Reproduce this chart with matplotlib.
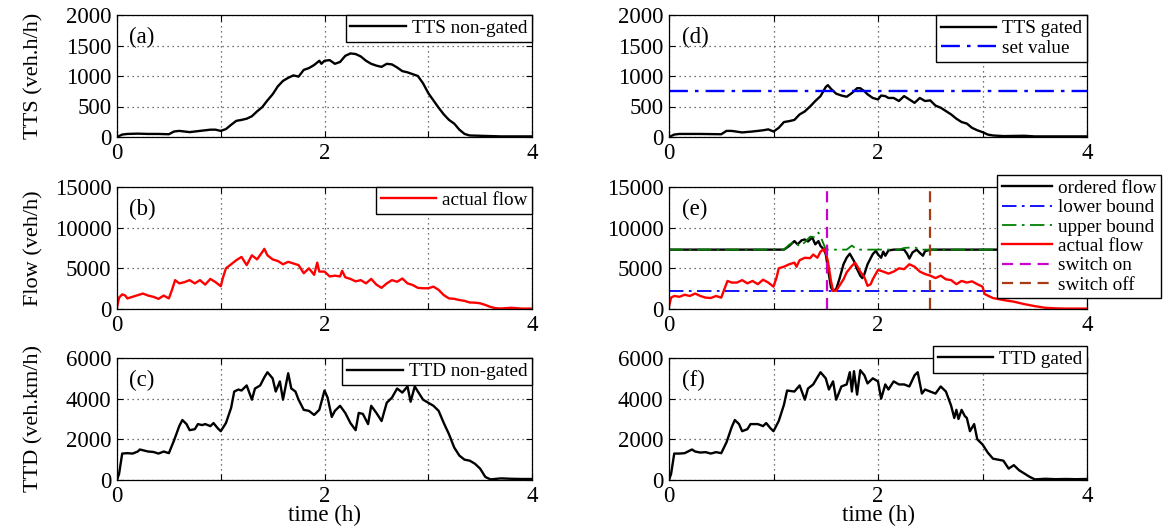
import matplotlib
matplotlib.use("Agg")
import matplotlib.pyplot as plt

plt.rcParams['font.family'] = 'serif'
plt.rcParams['font.serif'] = ['Liberation Serif', 'DejaVu Serif']

# ---------------- data ----------------
# (a) TTS non-gated
t_a = [0, 0.05, 0.1, 0.2, 0.3, 0.4, 0.5, 0.55, 0.6, 0.7, 0.8, 0.9, 0.95, 1.0, 1.05, 1.1, 1.15, 1.2,
       1.25, 1.3, 1.35, 1.4, 1.45, 1.5, 1.55, 1.6, 1.65, 1.7, 1.75, 1.8, 1.85, 1.9, 1.95, 1.97,
       2.0, 2.05, 2.1, 2.15, 2.2, 2.25, 2.3, 2.35, 2.4, 2.45, 2.5, 2.55, 2.6, 2.65, 2.7, 2.75,
       2.8, 2.85, 2.9, 2.95, 3.0, 3.05, 3.1, 3.15, 3.2, 3.25, 3.3, 3.35, 3.4, 3.5, 3.6, 3.7, 3.8, 3.9, 4.0]
tts_ng = [0, 40, 50, 55, 50, 50, 45, 90, 100, 80, 100, 120, 120, 100, 130, 200, 265, 280,
          300, 340, 420, 490, 600, 700, 830, 920, 970, 1010, 990, 1100, 1130, 1180, 1250, 1200,
          1250, 1260, 1200, 1230, 1330, 1370, 1360, 1320, 1250, 1200, 1170, 1150, 1200, 1190, 1140, 1080,
          1060, 1030, 1000, 880, 720, 600, 480, 370, 280, 220, 120, 50, 25, 20, 15, 10, 10, 10, 10]

# (b) actual flow non-gated
t_b = [0, 0.02, 0.05, 0.08, 0.1, 0.15, 0.2, 0.25, 0.3, 0.35, 0.4, 0.45, 0.5, 0.53, 0.56, 0.6, 0.65,
       0.7, 0.75, 0.8, 0.85, 0.9, 0.95, 1.0, 1.02, 1.05, 1.1, 1.15, 1.2, 1.25, 1.3, 1.35, 1.4, 1.42,
       1.45, 1.5, 1.55, 1.6, 1.65, 1.7, 1.75, 1.8, 1.85, 1.9, 1.93, 1.95, 2.0, 2.05, 2.1, 2.15, 2.17,
       2.2, 2.25, 2.3, 2.35, 2.4, 2.45, 2.5, 2.55, 2.6, 2.65, 2.7, 2.75, 2.8, 2.85, 2.9, 2.95, 3.0,
       3.05, 3.1, 3.15, 3.2, 3.25, 3.3, 3.35, 3.4, 3.45, 3.5, 3.55, 3.6, 3.65, 3.7, 3.8, 3.9, 4.0]
flow_ng = [200, 1400, 1800, 1650, 1300, 1500, 1700, 1900, 1650, 1500, 1250, 1650, 1300, 2350, 3550, 3150, 3300,
           3550, 3150, 3550, 3000, 3700, 3300, 2800, 3800, 5000, 5500, 6000, 6400, 5400, 6600, 6100, 7000, 7400,
           6600, 6100, 5900, 5500, 5800, 5600, 5400, 4400, 5000, 4200, 5700, 4600, 4600, 4000, 4100, 4000, 4700,
           3900, 3700, 3400, 3550, 3150, 3700, 3000, 2600, 3150, 3550, 3350, 3750, 3150, 2950, 2600, 2550, 2550,
           2750, 2350, 1700, 1300, 1250, 1100, 1000, 800, 780, 700, 500, 250, 100, 60, 150, 50, 50]

# (c) TTD non-gated
t_c = [0, 0.02, 0.05, 0.1, 0.15, 0.2, 0.22, 0.3, 0.35, 0.4, 0.45, 0.5, 0.55, 0.6, 0.63, 0.67, 0.7,
       0.75, 0.78, 0.82, 0.85, 0.9, 0.93, 0.97, 1.0, 1.05, 1.1, 1.13, 1.17, 1.2, 1.25, 1.3, 1.33,
       1.38, 1.42, 1.45, 1.5, 1.53, 1.57, 1.6, 1.65, 1.68, 1.72, 1.75, 1.8, 1.85, 1.9, 1.95, 2.0,
       2.03, 2.07, 2.1, 2.15, 2.2, 2.25, 2.3, 2.33, 2.37, 2.42, 2.45, 2.5, 2.55, 2.6, 2.65, 2.7,
       2.75, 2.8, 2.83, 2.87, 2.9, 2.95, 3.0, 3.05, 3.1, 3.15, 3.2, 3.25, 3.3, 3.35, 3.4, 3.45,
       3.5, 3.55, 3.6, 3.7, 3.8, 3.9, 4.0]
ttd_ng = [0, 300, 1300, 1320, 1300, 1400, 1500, 1400, 1380, 1300, 1400, 1320, 1950, 2650, 2950, 2750, 2450,
          2500, 2750, 2700, 2750, 2650, 2800, 2550, 2400, 2800, 3550, 4350, 4450, 4400, 4650, 3950, 4500,
          4650, 5050, 5300, 5000, 4350, 4850, 3950, 5250, 4500, 4350, 3950, 3450, 3400, 3200, 3450, 4400,
          4050, 3100, 3400, 3650, 3300, 2800, 2450, 3300, 3250, 2750, 3650, 3300, 2900, 3800, 4050, 4500,
          4300, 4600, 3850, 4600, 4350, 3950, 3800, 3650, 3400, 2800, 2250, 1600, 1200, 1000, 950, 800,
          560, 150, 30, 80, 60, 50, 50]

# (d) TTS gated
t_d = [0, 0.05, 0.1, 0.3, 0.5, 0.55, 0.6, 0.7, 0.8, 0.9, 0.95, 1.0, 1.05, 1.1, 1.15, 1.2, 1.25, 1.3,
       1.35, 1.4, 1.45, 1.5, 1.52, 1.55, 1.6, 1.65, 1.7, 1.75, 1.8, 1.83, 1.87, 1.9, 1.95, 2.0, 2.03,
       2.07, 2.1, 2.15, 2.2, 2.25, 2.3, 2.35, 2.4, 2.45, 2.5, 2.55, 2.6, 2.65, 2.7, 2.75, 2.8, 2.85,
       2.9, 2.95, 3.0, 3.05, 3.1, 3.2, 3.4, 3.5, 3.7, 4.0]
tts_g = [0, 40, 50, 50, 45, 100, 100, 75, 90, 110, 125, 90, 150, 245, 260, 280, 370, 420,
         500, 590, 670, 820, 850, 790, 710, 680, 660, 720, 800, 800, 750, 700, 640, 615, 680,
         670, 640, 640, 590, 670, 615, 560, 640, 590, 600, 515, 480, 425, 370, 300, 245, 220,
         150, 110, 80, 40, 25, 15, 20, 10, 10, 10]
set_value = 760

# (e) gated flows
t_e_act = [0, 0.02, 0.05, 0.1, 0.15, 0.2, 0.25, 0.3, 0.35, 0.4, 0.45, 0.5, 0.53, 0.56, 0.6, 0.65, 0.7,
           0.75, 0.8, 0.85, 0.9, 0.95, 1.0, 1.03, 1.05, 1.1, 1.15, 1.2, 1.22, 1.25, 1.3, 1.35, 1.38,
           1.42, 1.45, 1.48, 1.5, 1.52, 1.55, 1.57, 1.6, 1.63, 1.67, 1.7, 1.75, 1.78, 1.8, 1.83, 1.87,
           1.9, 1.93, 1.95, 2.0, 2.05, 2.1, 2.15, 2.2, 2.25, 2.3, 2.35, 2.4, 2.45, 2.5, 2.55, 2.6, 2.65,
           2.7, 2.75, 2.8, 2.85, 2.9, 2.95, 3.0, 3.02, 3.05, 3.1, 3.2, 3.3, 3.4, 3.5, 3.6, 3.7, 3.8, 4.0]
flow_g = [300, 1400, 1600, 1500, 1750, 1600, 1900, 1600, 1400, 1350, 1600, 1400, 2450, 3450, 3250, 3250, 3550,
          3150, 3450, 3050, 3600, 3250, 2750, 3900, 5000, 5200, 5500, 5700, 5200, 6000, 6300, 6250, 6700,
          6300, 7050, 7350, 6950, 5900, 3450, 2250, 2250, 2850, 3650, 4500, 5300, 5700, 5300, 4600, 3900,
          2850, 3050, 3650, 4800, 4600, 4350, 4600, 5000, 4900, 5500, 5200, 4600, 4300, 4100, 3800, 4100, 3650,
          3550, 3050, 3450, 3250, 3400, 3050, 2750, 1850, 1650, 1350, 1100, 900, 600, 350, 150, 80, 50, 50]

t_e_ord = [0, 1.1, 1.15, 1.2, 1.23, 1.27, 1.3, 1.33, 1.37, 1.4, 1.43, 1.45, 1.48, 1.5, 1.52, 1.55,
           1.57, 1.6, 1.63, 1.67, 1.7, 1.73, 1.77, 1.8, 1.83, 1.85, 1.87, 1.9, 1.95, 1.98, 2.0, 2.03,
           2.05, 2.07, 2.1, 2.15, 2.25, 2.28, 2.3, 2.33, 2.37, 2.4, 2.43, 2.45, 2.5, 4.0]
ordered = [7300, 7300, 7750, 8350, 7950, 8450, 8550, 8300, 8800, 7950, 8350, 7750, 7350, 6750, 5100, 2650,
           2250, 2450, 3650, 5500, 6300, 6800, 5900, 4900, 4100, 3800, 4300, 5500, 6750, 7150, 6700, 6300,
           7050, 6550, 7200, 7300, 7300, 6750, 6200, 6950, 7300, 6900, 6550, 7100, 7300, 7300]

t_e_up = [0, 1.1, 1.15, 1.2, 1.25, 1.3, 1.35, 1.4, 1.43, 1.47, 1.5, 1.7, 1.75, 1.8, 2.2, 2.25, 2.35, 2.4, 4.0]
upper = [7300, 7300, 7900, 8300, 7700, 8200, 8900, 8800, 9400, 8300, 7300, 7300, 7800, 7300, 7300, 7500, 7600, 7300, 7300]
lower_bound = 2200
switch_on = 1.51
switch_off = 2.50

# (f) TTD gated
t_f = [0, 0.02, 0.05, 0.1, 0.15, 0.2, 0.22, 0.25, 0.3, 0.35, 0.4, 0.45, 0.5, 0.55, 0.6, 0.63, 0.67,
       0.7, 0.75, 0.78, 0.85, 0.9, 0.93, 0.97, 1.0, 1.05, 1.1, 1.13, 1.2, 1.25, 1.3, 1.33, 1.38,
       1.42, 1.45, 1.5, 1.53, 1.57, 1.6, 1.65, 1.7, 1.73, 1.75, 1.77, 1.8, 1.83, 1.87, 1.9, 1.95,
       2.0, 2.03, 2.07, 2.1, 2.15, 2.2, 2.25, 2.3, 2.35, 2.38, 2.42, 2.45, 2.5, 2.55, 2.6, 2.65,
       2.7, 2.73, 2.75, 2.77, 2.8, 2.83, 2.85, 2.88, 2.92, 2.95, 3.0, 3.05, 3.1, 3.15, 3.2, 3.25,
       3.3, 3.35, 3.4, 3.45, 3.5, 3.6, 3.7, 3.8, 3.9, 4.0]
ttd_g = [0, 300, 1300, 1300, 1320, 1450, 1500, 1400, 1350, 1370, 1300, 1370, 1320, 1850, 2600, 2950, 2750,
         2400, 2500, 2750, 2750, 2650, 2800, 2550, 2400, 2900, 3700, 4400, 4350, 4650, 3950, 4500, 4700,
         5050, 5300, 5000, 4450, 4850, 3950, 4600, 4700, 5300, 4350, 5350, 4200, 5400, 5150, 4750, 5000,
         4850, 4000, 4700, 4450, 4850, 4700, 4700, 4600, 5150, 5300, 4250, 4450, 4350, 4250, 4600, 4350,
         3650, 3050, 3450, 3000, 3450, 3150, 3050, 2400, 2750, 2000, 1750, 1350, 1050, 1000, 950, 560,
         730, 480, 320, 160, 30, 60, 40, 50, 40, 50]

xticks = [0, 1, 2, 3, 4]
xticklabels = ['0', '', '2', '', '4']
yticks_tts = [0, 500, 1000, 1500, 2000]
yticks_flow = [0, 5000, 10000, 15000]
yticks_ttd = [0, 2000, 4000, 6000]

# ---------------- figure ----------------
W, H = 1171, 528
fig = plt.figure(figsize=(W / 100, H / 100), dpi=100)

def box(x0, x1, ytop, ybot):
    return [x0 / W, 1 - ybot / H, (x1 - x0) / W, (ybot - ytop) / H]

cols = [(117, 532), (669, 1087)]
rows = [(15, 137), (187, 309), (358, 480)]

TICK_FS = 16.5
LEG_FS = 13.8
LW = 1.7
DASHDOT = (0, (8, 3, 1.5, 3))

def style(ax, yticks, label):
    ax.set_xlim(0, 4)
    ax.set_ylim(yticks[0], yticks[-1])
    ax.set_xticks(xticks)
    ax.set_xticklabels(xticklabels)
    ax.set_yticks(yticks)
    ax.set_yticklabels([str(v) for v in yticks])
    ax.grid(True, linestyle=(0, (1, 3)), color='#444444', linewidth=0.9)
    ax.tick_params(direction='in', length=4, width=0.8, labelsize=TICK_FS, pad=4,
                   top=True, right=True)
    for s in ax.spines.values():
        s.set_linewidth(0.9)
        s.set_color('black')
    ax.text(0.03, 0.82, label, transform=ax.transAxes, fontsize=16.5, va='center', ha='left')

def legend(ax, **kw):
    opts = dict(fontsize=LEG_FS, frameon=True, fancybox=False, edgecolor='black',
                framealpha=1, borderaxespad=0, handlelength=2.9, handletextpad=0.3,
                borderpad=0.25, labelspacing=0.12)
    opts.update(kw)
    lg = ax.legend(**opts)
    lg.get_frame().set_linewidth(1.0)
    return lg

# (a)
ax = fig.add_axes(box(*cols[0], *rows[0]))
ax.plot(t_a, tts_ng, color='black', lw=LW, label='TTS non-gated')
style(ax, yticks_tts, '(a)')
legend(ax, loc='upper right')
ax.set_ylabel('TTS (veh.h/h)', fontsize=16)
ax.yaxis.set_label_coords(-0.178, 0.5)

# (b)
ax = fig.add_axes(box(*cols[0], *rows[1]))
ax.plot(t_b, flow_ng, color='red', lw=LW, label='actual flow')
style(ax, yticks_flow, '(b)')
legend(ax, loc='upper right')
ax.set_ylabel('Flow (veh/h)', fontsize=16)
ax.yaxis.set_label_coords(-0.178, 0.5)

# (c)
ax = fig.add_axes(box(*cols[0], *rows[2]))
ax.plot(t_c, ttd_ng, color='black', lw=LW, label='TTD non-gated')
style(ax, yticks_ttd, '(c)')
legend(ax, loc='upper right')
ax.set_ylabel('TTD (veh.km/h)', fontsize=16)
ax.yaxis.set_label_coords(-0.178, 0.5)
ax.set_xlabel('time (h)', fontsize=16.5)
ax.xaxis.set_label_coords(0.5, -0.2)

# (d)
ax = fig.add_axes(box(*cols[1], *rows[0]))
ax.plot(t_d, tts_g, color='black', lw=LW, label='TTS gated')
ax.axhline(set_value, color='blue', lw=LW, linestyle=DASHDOT, label='set value')
style(ax, yticks_tts, '(d)')
legend(ax, loc='upper right')

# (e)
ax = fig.add_axes(box(*cols[1], *rows[1]))
ax.plot(t_e_ord, ordered, color='black', lw=LW, label='ordered flow')
ax.axhline(lower_bound, color='blue', lw=1.3, linestyle=DASHDOT, label='lower bound')
ax.plot(t_e_up, upper, color='green', lw=1.3, linestyle=DASHDOT, label='upper bound')
ax.plot(t_e_act, flow_g, color='red', lw=LW, label='actual flow')
ax.axvline(switch_on, color='#cc00cc', lw=1.6, linestyle=(0, (5, 3)), label='switch on')
ax.axvline(switch_off, color='#a83a14', lw=1.6, linestyle=(0, (5, 3)), label='switch off')
style(ax, yticks_flow, '(e)')
legend(ax, loc='upper left', bbox_to_anchor=(0.785, 1.10), handlelength=2.6, labelspacing=0.1)

# (f)
ax = fig.add_axes(box(*cols[1], *rows[2]))
ax.plot(t_f, ttd_g, color='black', lw=LW, label='TTD gated')
style(ax, yticks_ttd, '(f)')
legend(ax, loc='upper right', bbox_to_anchor=(1.0, 1.10))
ax.set_xlabel('time (h)', fontsize=16.5)
ax.xaxis.set_label_coords(0.5, -0.2)

fig.savefig('out.png', dpi=100)
